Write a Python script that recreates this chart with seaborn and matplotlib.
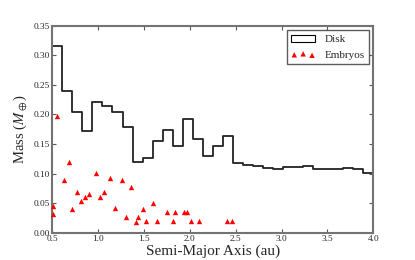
import numpy as np
import pandas as pd
import seaborn as sns
import matplotlib.pyplot as plt
from matplotlib.patches import Patch

# disk mass per semi-major-axis bin (32 bins from 0.5 to 4.0 au)
disk_mass = [0.315, 0.240, 0.204, 0.172, 0.221, 0.215, 0.204, 0.178,
             0.120, 0.127, 0.155, 0.173, 0.146, 0.193, 0.158, 0.129,
             0.147, 0.164, 0.118, 0.114, 0.112, 0.109, 0.108, 0.111,
             0.111, 0.112, 0.108, 0.107, 0.107, 0.109, 0.108, 0.101]
bin_edges = list(np.linspace(0.5, 4.0, len(disk_mass) + 1))

# embryos
emb_a = [0.505, 0.505, 0.548, 0.631, 0.678, 0.715, 0.766, 0.813, 0.860, 0.900,
         0.980, 1.021, 1.069, 1.126, 1.186, 1.258, 1.305, 1.361, 1.418, 1.433,
         1.486, 1.524, 1.601, 1.645, 1.748, 1.813, 1.835, 1.936, 1.969, 2.009,
         2.103, 2.408, 2.459]
emb_m = [0.045, 0.032, 0.198, 0.089, 0.120, 0.040, 0.069, 0.053, 0.061, 0.065,
         0.101, 0.060, 0.069, 0.093, 0.042, 0.089, 0.026, 0.077, 0.018, 0.026,
         0.040, 0.019, 0.051, 0.020, 0.035, 0.019, 0.035, 0.035, 0.035, 0.019,
         0.019, 0.019, 0.019]

sns.set_style("ticks")
plt.rcParams['font.family'] = ['Liberation Serif', 'DejaVu Serif']
plt.rcParams['mathtext.fontset'] = 'stix'

centers = [(lo + hi) / 2 for lo, hi in zip(bin_edges[:-1], bin_edges[1:])]
disk = pd.DataFrame({'a': centers, 'mass': disk_mass})
emb = pd.DataFrame({'a': emb_a, 'mass': emb_m})

fig = plt.figure(figsize=(4.15, 2.6), dpi=100)
ax = fig.add_axes([0.126, 0.105, 0.7735, 0.796])

sns.histplot(data=disk, x='a', weights='mass', bins=bin_edges, element='step',
             fill=False, color='#222222', linewidth=1.3, ax=ax)
sc = ax.scatter(emb['a'], emb['mass'], marker='^', color='red', s=15,
                linewidths=0, zorder=3, clip_on=False)

ax.set_xlim(0.5, 4.0)
ax.set_ylim(0, 0.35)
ax.set_xticks(np.arange(0.5, 4.01, 0.5))
ax.set_yticks(np.arange(0, 0.351, 0.05))
ax.set_xticklabels([f'{v:.1f}' for v in np.arange(0.5, 4.01, 0.5)])
ax.set_yticklabels([f'{v:.2f}' for v in np.arange(0, 0.351, 0.05)])
ax.tick_params(direction='in', top=True, right=True, length=3, width=0.8,
               labelsize=6.7, color='0.35', pad=2)
for s in ax.spines.values():
    s.set_visible(True)
    s.set_color('0.45')
    s.set_linewidth(1.5)

ax.set_xlabel('Semi-Major Axis (au)', fontsize=11, labelpad=1)
ax.set_ylabel(r'Mass ($M_\oplus$)', fontsize=10.5, labelpad=3)

handles = [Patch(facecolor='none', edgecolor='black', linewidth=0.8), sc]
leg = ax.legend(handles, ['Disk', 'Embryos'], loc='upper right', fontsize=8,
                scatterpoints=3, frameon=True, fancybox=False,
                borderaxespad=0.4, handlelength=2.2)
leg.get_frame().set_edgecolor('0.2')
leg.get_frame().set_linewidth(1.0)

fig.savefig('out.png', dpi=100)
